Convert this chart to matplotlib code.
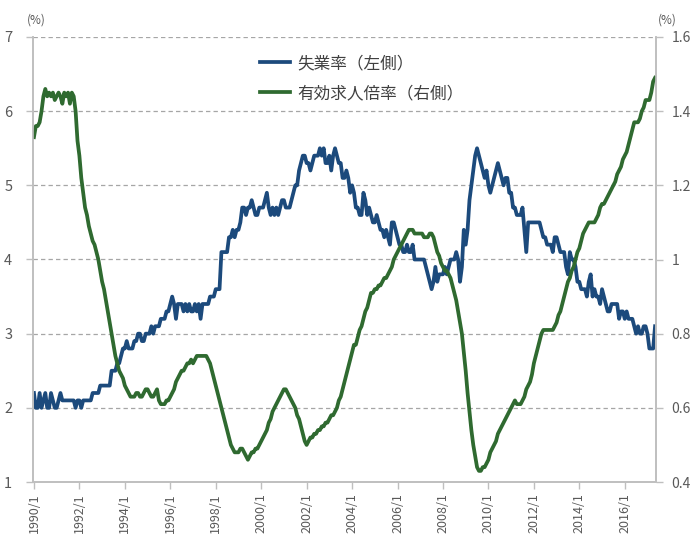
import numpy as np
import matplotlib
matplotlib.use("Agg")
import matplotlib.pyplot as plt

plt.rcParams['font.family'] = ['Noto Sans CJK JP', 'DejaVu Sans']

# 完全失業率（季節調整値, %） 1990/1 - 2017/5
unemp = [
    2.2, 2.0, 2.0, 2.2, 2.0, 2.1, 2.2, 2.0, 2.0, 2.2, 2.1, 2.0,  # 1990
    2.0, 2.1, 2.2, 2.1, 2.1, 2.1, 2.1, 2.1, 2.1, 2.1, 2.0, 2.1,  # 1991
    2.1, 2.0, 2.1, 2.1, 2.1, 2.1, 2.1, 2.2, 2.2, 2.2, 2.2, 2.3,  # 1992
    2.3, 2.3, 2.3, 2.3, 2.3, 2.5, 2.5, 2.5, 2.6, 2.6, 2.7, 2.8,  # 1993
    2.8, 2.9, 2.8, 2.8, 2.8, 2.9, 2.9, 3.0, 3.0, 2.9, 2.9, 3.0,  # 1994
    3.0, 3.0, 3.1, 3.0, 3.1, 3.1, 3.1, 3.2, 3.2, 3.2, 3.3, 3.3,  # 1995
    3.4, 3.5, 3.4, 3.2, 3.4, 3.4, 3.4, 3.3, 3.4, 3.3, 3.4, 3.3,  # 1996
    3.3, 3.4, 3.3, 3.4, 3.2, 3.4, 3.4, 3.4, 3.4, 3.5, 3.5, 3.5,  # 1997
    3.6, 3.6, 3.6, 4.1, 4.1, 4.1, 4.1, 4.3, 4.3, 4.4, 4.3, 4.4,  # 1998
    4.4, 4.5, 4.7, 4.7, 4.6, 4.7, 4.7, 4.8, 4.7, 4.6, 4.6, 4.7,  # 1999
    4.7, 4.7, 4.8, 4.9, 4.7, 4.6, 4.7, 4.6, 4.7, 4.6, 4.7, 4.8,  # 2000
    4.8, 4.7, 4.7, 4.7, 4.8, 4.9, 5.0, 5.0, 5.2, 5.3, 5.4, 5.4,  # 2001
    5.3, 5.3, 5.2, 5.3, 5.4, 5.4, 5.4, 5.5, 5.4, 5.5, 5.3, 5.3,  # 2002
    5.4, 5.2, 5.4, 5.5, 5.4, 5.3, 5.3, 5.1, 5.1, 5.2, 5.1, 4.9,  # 2003
    5.0, 4.9, 4.7, 4.7, 4.6, 4.6, 4.9, 4.8, 4.6, 4.7, 4.6, 4.5,  # 2004
    4.5, 4.6, 4.5, 4.4, 4.4, 4.3, 4.4, 4.3, 4.2, 4.5, 4.5, 4.4,  # 2005
    4.3, 4.2, 4.2, 4.1, 4.1, 4.2, 4.1, 4.1, 4.2, 4.0, 4.0, 4.0,  # 2006
    4.0, 4.0, 4.0, 3.9, 3.8, 3.7, 3.6, 3.7, 3.9, 3.7, 3.8, 3.8,  # 2007
    3.8, 3.9, 3.8, 3.9, 4.0, 4.0, 4.0, 4.1, 4.0, 3.7, 3.9, 4.4,  # 2008
    4.2, 4.4, 4.8, 5.0, 5.2, 5.4, 5.5, 5.4, 5.3, 5.2, 5.1, 5.2,  # 2009
    5.0, 4.9, 5.0, 5.1, 5.2, 5.3, 5.2, 5.1, 5.0, 5.1, 5.1, 4.9,  # 2010
    4.9, 4.7, 4.7, 4.6, 4.6, 4.6, 4.7, 4.4, 4.1, 4.5, 4.5, 4.5,  # 2011
    4.5, 4.5, 4.5, 4.5, 4.4, 4.3, 4.3, 4.2, 4.2, 4.2, 4.1, 4.3,  # 2012
    4.3, 4.2, 4.1, 4.1, 4.1, 3.9, 3.8, 4.1, 4.0, 4.0, 3.9, 3.7,  # 2013
    3.7, 3.6, 3.6, 3.6, 3.5, 3.7, 3.8, 3.5, 3.6, 3.5, 3.5, 3.4,  # 2014
    3.6, 3.5, 3.4, 3.3, 3.3, 3.4, 3.4, 3.4, 3.4, 3.2, 3.3, 3.3,  # 2015
    3.2, 3.3, 3.2, 3.2, 3.2, 3.1, 3.0, 3.1, 3.0, 3.0, 3.1, 3.1,  # 2016
    3.0, 2.8, 2.8, 2.8, 3.1,                                     # 2017
]

# 有効求人倍率（季節調整値, 倍）
jobs = [
    1.33, 1.36, 1.36, 1.37, 1.40, 1.44, 1.46, 1.44, 1.45, 1.44, 1.45, 1.43,  # 1990
    1.44, 1.45, 1.44, 1.42, 1.45, 1.44, 1.45, 1.42, 1.45, 1.44, 1.40, 1.32,  # 1991
    1.28, 1.22, 1.18, 1.14, 1.12, 1.09, 1.07, 1.05, 1.04, 1.02, 1.00, 0.97,  # 1992
    0.94, 0.92, 0.89, 0.86, 0.83, 0.80, 0.77, 0.74, 0.72, 0.70, 0.69, 0.68,  # 1993
    0.66, 0.65, 0.64, 0.63, 0.63, 0.63, 0.64, 0.64, 0.63, 0.63, 0.64, 0.65,  # 1994
    0.65, 0.64, 0.63, 0.63, 0.64, 0.65, 0.62, 0.61, 0.61, 0.61, 0.62, 0.62,  # 1995
    0.63, 0.64, 0.65, 0.67, 0.68, 0.69, 0.70, 0.70, 0.71, 0.72, 0.72, 0.73,  # 1996
    0.72, 0.73, 0.74, 0.74, 0.74, 0.74, 0.74, 0.74, 0.73, 0.72, 0.70, 0.68,  # 1997
    0.66, 0.64, 0.62, 0.60, 0.58, 0.56, 0.54, 0.52, 0.50, 0.49, 0.48, 0.48,  # 1998
    0.48, 0.49, 0.49, 0.48, 0.47, 0.46, 0.47, 0.48, 0.48, 0.49, 0.49, 0.50,  # 1999
    0.51, 0.52, 0.53, 0.54, 0.56, 0.57, 0.59, 0.60, 0.61, 0.62, 0.63, 0.64,  # 2000
    0.65, 0.65, 0.64, 0.63, 0.62, 0.61, 0.60, 0.58, 0.57, 0.55, 0.53, 0.51,  # 2001
    0.50, 0.51, 0.52, 0.52, 0.53, 0.53, 0.54, 0.54, 0.55, 0.55, 0.56, 0.56,  # 2002
    0.57, 0.58, 0.58, 0.59, 0.60, 0.62, 0.63, 0.65, 0.67, 0.69, 0.71, 0.73,  # 2003
    0.75, 0.77, 0.77, 0.79, 0.81, 0.82, 0.84, 0.86, 0.87, 0.89, 0.91, 0.91,  # 2004
    0.92, 0.92, 0.93, 0.93, 0.94, 0.95, 0.95, 0.96, 0.97, 0.98, 1.00, 1.01,  # 2005
    1.02, 1.03, 1.04, 1.05, 1.06, 1.07, 1.08, 1.08, 1.08, 1.07, 1.07, 1.07,  # 2006
    1.07, 1.07, 1.06, 1.06, 1.06, 1.07, 1.07, 1.06, 1.04, 1.02, 1.01, 0.99,  # 2007
    0.98, 0.97, 0.97, 0.96, 0.95, 0.93, 0.91, 0.89, 0.86, 0.83, 0.80, 0.75,  # 2008
    0.70, 0.64, 0.59, 0.54, 0.50, 0.47, 0.44, 0.43, 0.43, 0.44, 0.44, 0.45,  # 2009
    0.46, 0.48, 0.49, 0.50, 0.51, 0.53, 0.54, 0.55, 0.56, 0.57, 0.58, 0.59,  # 2010
    0.60, 0.61, 0.62, 0.61, 0.61, 0.61, 0.62, 0.63, 0.65, 0.66, 0.67, 0.69,  # 2011
    0.72, 0.74, 0.76, 0.78, 0.80, 0.81, 0.81, 0.81, 0.81, 0.81, 0.81, 0.82,  # 2012
    0.83, 0.85, 0.86, 0.88, 0.90, 0.92, 0.94, 0.95, 0.97, 0.98, 1.00, 1.02,  # 2013
    1.03, 1.05, 1.07, 1.08, 1.09, 1.10, 1.10, 1.10, 1.10, 1.11, 1.12, 1.14,  # 2014
    1.15, 1.15, 1.16, 1.17, 1.18, 1.19, 1.20, 1.21, 1.23, 1.24, 1.25, 1.27,  # 2015
    1.28, 1.29, 1.31, 1.33, 1.35, 1.37, 1.37, 1.37, 1.38, 1.40, 1.41, 1.43,  # 2016
    1.43, 1.43, 1.45, 1.48, 1.49,                                            # 2017
]

tick_years = list(range(1990, 2017, 2))
tick_labels = [f"{y}/1" for y in tick_years]
label_unemp = "失業率（左側）"
label_jobs = "有効求人倍率（右側）"

blue = "#1c4a7c"
green = "#2f6a30"
gray = "#595959"
axis_gray = "#bfbfbf"

n = len(unemp)
x = np.arange(n)
tick_pos = [(y - 1990) * 12 for y in tick_years]

fig = plt.figure(figsize=(6.94, 5.38), dpi=100)
ax1 = fig.add_axes([33 / 694, 1 - 482 / 538, (656 - 33) / 694, (482 - 37) / 538])
ax2 = ax1.twinx()

l1, = ax1.plot(x, unemp, color=blue, lw=2.7, solid_joinstyle='round', label=label_unemp)
l2, = ax2.plot(x, jobs, color=green, lw=2.7, solid_joinstyle='round', label=label_jobs)

ax1.set_xlim(-0.5, n - 0.5)
ax1.set_ylim(1, 7)
ax2.set_ylim(0.4, 1.6)
ax1.set_yticks(range(1, 8))
ax1.set_yticklabels([str(v) for v in range(1, 8)])
r_ticks = np.arange(0.4, 1.61, 0.2)
ax2.set_yticks(r_ticks)
ax2.set_yticklabels([f"{v:g}" for v in np.round(r_ticks, 1)])

ax1.set_xticks(tick_pos)
ax1.set_xticklabels(tick_labels, rotation=90, va='top', ha='center')

for v in range(2, 8):
    ax1.axhline(v, color="#a6a6a6", lw=0.9, ls=(0, (3.5, 2.5)), zorder=0)

for ax in (ax1, ax2):
    ax.spines['top'].set_visible(False)
    for s in ('left', 'right', 'bottom'):
        ax.spines[s].set_color(axis_gray)
        ax.spines[s].set_linewidth(1.2)
    ax.tick_params(colors=axis_gray, labelcolor=gray, labelsize=10.5, length=5, width=1)
ax1.tick_params(axis='y', pad=10)
ax2.tick_params(axis='y', pad=6, labelsize=10)
ax1.tick_params(axis='x', pad=3, labelsize=9)

fig.text(36 / 694, 1 - 20 / 538, "(%)", ha='center', va='center', fontsize=8.5, color=gray)
fig.text(667 / 694, 1 - 20 / 538, "(%)", ha='center', va='center', fontsize=8.5, color=gray)

fig.legend(handles=[l1, l2], loc='upper left', bbox_to_anchor=(252 / 694, 1 - 47 / 538),
           frameon=False, fontsize=12, handlelength=1.8, handletextpad=0.4,
           labelspacing=0.75, borderpad=0, labelcolor="#404040")

fig.savefig("out.png", dpi=100)
